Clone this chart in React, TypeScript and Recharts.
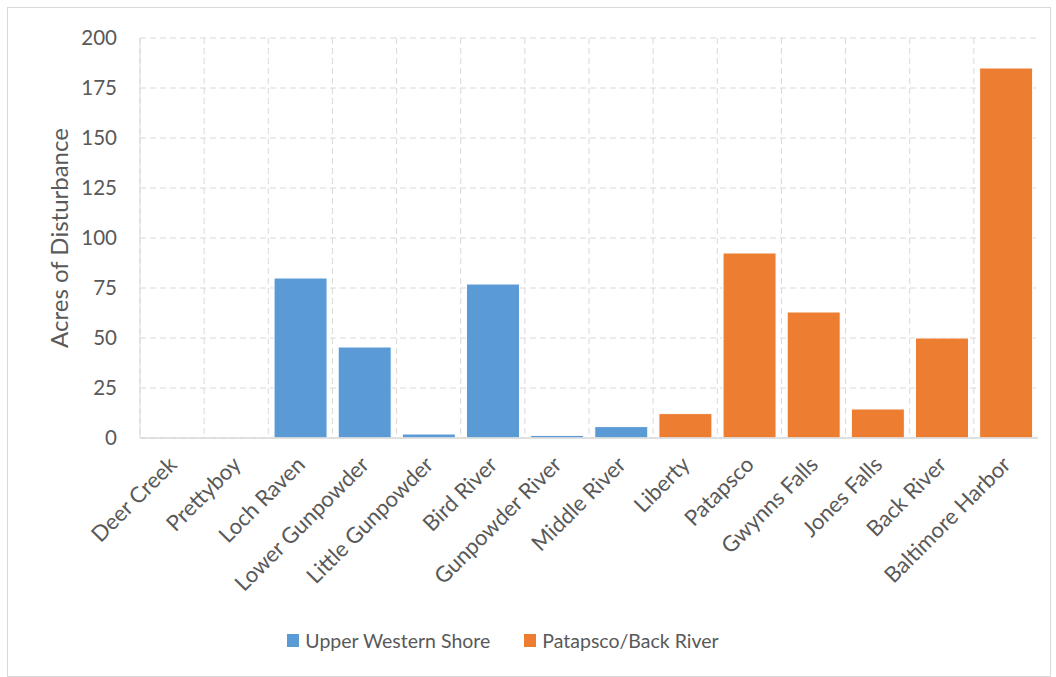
import {
  BarChart,
  Bar,
  XAxis,
  YAxis,
  CartesianGrid,
  Legend,
} from "recharts";

const categories = [
  "Deer Creek",
  "Prettyboy",
  "Loch Raven",
  "Lower Gunpowder",
  "Little Gunpowder",
  "Bird River",
  "Gunpowder River",
  "Middle River",
  "Liberty",
  "Patapsco",
  "Gwynns Falls",
  "Jones Falls",
  "Back River",
  "Baltimore Harbor",
];

const upperWesternShore = [0, 0, 80, 45.5, 2, 77, 1.3, 5.7, null, null, null, null, null, null];
const patapscoBackRiver = [null, null, null, null, null, null, null, null, 12.2, 92.5, 63, 14.5, 50, 185];

const yTicks = [0, 25, 50, 75, 100, 125, 150, 175, 200];

const BLUE = "#5b9bd5";
const ORANGE = "#ed7d31";
const TEXT = "#595959";
const GRID = "#d9d9d9";
const FONT = "Lato, 'Open Sans', sans-serif";

const data = categories.map((name, i) => ({
  name,
  upper: upperWesternShore[i],
  patapsco: patapscoBackRiver[i],
}));

function CategoryTick({ x, y, payload }: any) {
  return (
    <g transform={`translate(${x + 6},${y + 20})`}>
      <text
        transform="rotate(-45)"
        textAnchor="end"
        fill={TEXT}
        fontSize={22}
        fontFamily={FONT}
      >
        {payload.value}
      </text>
    </g>
  );
}

function LegendContent() {
  const items = [
    { label: "Upper Western Shore", color: BLUE },
    { label: "Patapsco/Back River", color: ORANGE },
  ];
  return (
    <div
      style={{
        display: "flex",
        justifyContent: "center",
        gap: 34,
        fontFamily: FONT,
        fontSize: 19.5,
        color: TEXT,
        paddingRight: 32,
      }}
    >
      {items.map((it) => (
        <div key={it.label} style={{ display: "flex", alignItems: "center" }}>
          <span
            style={{
              width: 12,
              height: 13,
              background: it.color,
              display: "inline-block",
              marginRight: 6,
            }}
          />
          {it.label}
        </div>
      ))}
    </div>
  );
}

export default function App() {
  return (
    <div
      style={{
        position: "absolute",
        left: 0,
        top: 0,
        width: 1056,
        height: 677,
        background: "#fff",
      }}
    >
      <div
        style={{
          position: "absolute",
          left: 7,
          top: 7,
          width: 1042,
          height: 668,
          border: `1px solid ${GRID}`,
        }}
      />
      <BarChart
        width={1056}
        height={677}
        data={data}
        margin={{ top: 38, right: 18, left: 0, bottom: 8 }}
        barCategoryGap="9%"
      >
        <CartesianGrid
          stroke={GRID}
          strokeDasharray="6 4"
          verticalCoordinatesGenerator={({ offset }: any) =>
            categories.map((_, i) => offset.left + (i * offset.width) / categories.length)
          }
        />
        <XAxis
          dataKey="name"
          interval={0}
          height={191}
          tickLine={false}
          axisLine={{ stroke: GRID, strokeWidth: 1.5 }}
          tick={<CategoryTick />}
        />
        <XAxis xAxisId="top" orientation="top" height={0} tick={false} tickLine={false} axisLine={{ stroke: GRID }} />
        <YAxis
          domain={[0, 200]}
          ticks={yTicks}
          width={140}
          tickLine={false}
          axisLine={{ stroke: GRID }}
          tickMargin={17}
          tick={{ fill: TEXT, fontSize: 20.5, fontFamily: FONT }}
          label={{
            value: "Acres of Disturbance",
            angle: -90,
            position: "insideLeft",
            offset: 59,
            style: { fill: TEXT, fontSize: 24, fontFamily: FONT, textAnchor: "middle" },
          }}
        />
        <YAxis yAxisId="right" orientation="right" width={0} tick={false} tickLine={false} axisLine={{ stroke: GRID }} />
        <Legend verticalAlign="bottom" height={40} content={<LegendContent />} />
        <Bar dataKey="upper" stackId="a" fill={BLUE} stroke="#fff" strokeWidth={1} isAnimationActive={false} />
        <Bar dataKey="patapsco" stackId="a" fill={ORANGE} stroke="#fff" strokeWidth={1} isAnimationActive={false} />
      </BarChart>
    </div>
  );
}
